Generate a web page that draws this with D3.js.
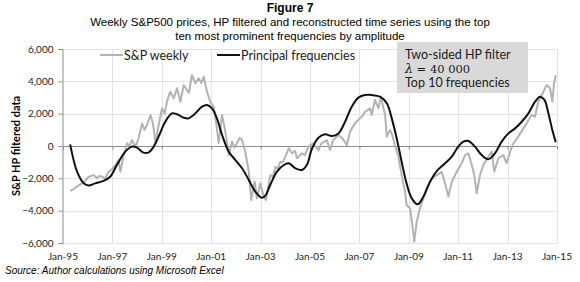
<!DOCTYPE html>
<html>
<head>
<meta charset="utf-8">
<script src="https://cdn.jsdelivr.net/npm/d3@7"></script>
<style>
  body { margin: 0; background: #fff; }
  svg { display: block; }
</style>
</head>
<body>
<div id="chart"></div>
<script>
// weekly S&P, HP filtered (decimal years)
const spYears = [
  1995.30, 1995.45, 1995.57, 1995.77, 1995.90, 1996.04, 1996.24, 1996.38, 1996.48, 1996.58,
  1996.71, 1996.85, 1996.98, 1997.12, 1997.25, 1997.32, 1997.46, 1997.59, 1997.70, 1997.79,
  1997.93, 1998.06, 1998.20, 1998.30, 1998.40, 1998.54, 1998.62, 1998.67, 1998.74, 1998.87,
  1999.01, 1999.11, 1999.21, 1999.34, 1999.48, 1999.62, 1999.75, 1999.89, 2000.02, 2000.10,
  2000.22, 2000.36, 2000.49, 2000.60, 2000.70, 2000.83, 2000.96, 2001.10, 2001.23, 2001.30,
  2001.44, 2001.57, 2001.71, 2001.84, 2001.95, 2002.04, 2002.15, 2002.25, 2002.38, 2002.52,
  2002.62, 2002.76, 2002.85, 2002.99, 2003.13, 2003.22, 2003.39, 2003.50, 2003.60, 2003.70,
  2003.80, 2003.90, 2004.00, 2004.14, 2004.27, 2004.40, 2004.47, 2004.58, 2004.68, 2004.80,
  2004.93, 2005.13, 2005.34, 2005.47, 2005.68, 2005.81, 2005.94, 2006.15, 2006.30, 2006.49,
  2006.62, 2006.82, 2007.02, 2007.15, 2007.23, 2007.43, 2007.50, 2007.63, 2007.77, 2007.87,
  2008.04, 2008.11, 2008.24, 2008.33, 2008.44, 2008.58, 2008.71, 2008.85, 2008.91, 2009.05,
  2009.14, 2009.22, 2009.32, 2009.45, 2009.59, 2009.72, 2009.93, 2010.13, 2010.33, 2010.47,
  2010.60, 2010.74, 2010.94, 2011.14, 2011.28, 2011.41, 2011.55, 2011.65, 2011.75, 2011.88,
  2012.02, 2012.22, 2012.36, 2012.46, 2012.63, 2012.83, 2012.96, 2013.10, 2013.23, 2013.43,
  2013.64, 2013.77, 2013.97, 2014.11, 2014.24, 2014.45, 2014.58, 2014.72, 2014.81, 2014.88,
  2014.95
]
const spValues = [
  -2780, -2650, -2500, -2310, -2150, -1900, -1800, -2000, -1850, -1900,
  -2000, -1590, -1450, -1175, -870, -1590, -560, 170, 0, 370,
  -40, 480, 1400, 1000, 1300, 1920, 1500, 1090, 170, 1300,
  2330, 2000, 2740, 3360, 2950, 3570, 2740, 3770, 3460, 3300,
  4390, 3880, 4190, 3900, 4290, 3360, 2740, 2430, 1090, 170,
  1920, 890, -560, 270, -100, 170, 500, 370, -350, -1590,
  -3340, -2210, -3240, -2310, -3130, -3340, -1800, -1900, -1280, -1400,
  -970, -1000, -660, -140, -450, -300, -760, -600, -450, -560,
  -40, 170, -250, 170, 370, -250, 370, 680, 500, 60,
  890, 1400, 1710, 1900, 2120, 2330, 1920, 2850, 2330, 3050,
  1920, 580, 990, 680, 60, -660, -1800, -2830, -3650, -3850,
  -4890, -5920, -4680, -3850, -3240, -2620, -2000, -1800, -1590, -2310,
  -3130, -2210, -1590, -1070, -560, -450, -1175, -1800, -2930, -1800,
  -1175, -660, -350, -1590, -760, -560, -1070, -350, 170, 580,
  1090, 1400, 1920, 1810, 2740, 3360, 3770, 3570, 2740, 3880,
  4390
]

// reconstruction from the top ten frequencies
const pfYears = [
  1995.29, 1995.57, 1995.84, 1996.04, 1996.30, 1996.64, 1996.91, 1997.18, 1997.52, 1997.79,
  1997.99, 1998.26, 1998.47, 1998.67, 1998.87, 1999.14, 1999.41, 1999.62, 1999.89, 2000.09,
  2000.29, 2000.63, 2000.83, 2001.03, 2001.23, 2001.44, 2001.71, 2001.98, 2002.25, 2002.52,
  2002.79, 2003.06, 2003.19, 2003.39, 2003.66, 2003.94, 2004.14, 2004.41, 2004.68, 2004.88,
  2005.07, 2005.34, 2005.61, 2005.88, 2006.15, 2006.42, 2006.69, 2006.96, 2007.23, 2007.50,
  2007.83, 2008.11, 2008.31, 2008.51, 2008.71, 2008.91, 2009.12, 2009.36, 2009.59, 2009.86,
  2010.13, 2010.47, 2010.74, 2011.00, 2011.21, 2011.41, 2011.68, 2011.95, 2012.22, 2012.49,
  2012.76, 2013.03, 2013.30, 2013.57, 2013.84, 2014.11, 2014.31, 2014.49, 2014.65, 2014.81,
  2014.95
]
const pfValues = [
  100, -1590, -2310, -2450, -2310, -2160, -1900, -1175, -350, -40,
  -100, -410, -390, -40, 580, 1500, 2020, 1960, 1750, 1710,
  1920, 2430, 2540, 2330, 1710, 680, -350, -870, -1380, -2100,
  -2830, -3200, -3070, -2410, -1590, -1175, -1070, -1380, -1480, -1150,
  -200, 510, 720, 620, 780, 1500, 2430, 2990, 3150, 3150,
  3050, 2640, 1710, 480, -970, -2310, -3240, -3610, -3130, -2210,
  -1550, -1070, -660, -40, 270, 310, -40, -560, -820, -450,
  270, 780, 1090, 1500, 2020, 2740, 3050, 2850, 2020, 990,
  230
]

const yTicks = [-6000, -4000, -2000, 0, 2000, 4000, 6000]
const xTickYears = [1995, 1997, 1999, 2001, 2003, 2005, 2007, 2009, 2011, 2013, 2015]
const titleLines = [
  'Weekly S&P500 prices, HP filtered and reconstructed time series using the top',
  'ten most prominent frequencies by amplitude'
]
const legendLabels = ['S&P weekly', 'Principal frequencies']

function draw(){
    const toDate = (y) => new Date(Date.UTC(Math.floor(y), 0, 1) + (y % 1) * 365.25 * 864e5)

    let dimensions = {
        width: 580,
        height: 282,
        left: 63,
        right: 557,
        top: 49,
        bottom: 243
    }

    const svg = d3.select('#chart')
        .append('svg')
        .attr('width', dimensions.width)
        .attr('height', dimensions.height)
        .style('font-family', 'Lato, "Open Sans", sans-serif')

    const xScale = d3.scaleUtc()
        .domain([toDate(1995), toDate(2015)])
        .range([dimensions.left, dimensions.right])

    const yScale = d3.scaleLinear()
        .domain([-6000, 6000])
        .range([dimensions.bottom, dimensions.top])

    // gridlines
    svg.append('g')
        .selectAll('line')
        .data(yTicks.filter(d => d !== 0))
        .join('line')
        .attr('x1', dimensions.left)
        .attr('x2', dimensions.right)
        .attr('y1', d => Math.round(yScale(d)) + 0.5)
        .attr('y2', d => Math.round(yScale(d)) + 0.5)
        .attr('stroke', '#e3e3e3')

    svg.append('g')
        .selectAll('line')
        .data(xTickYears.slice(1))
        .join('line')
        .attr('x1', d => Math.round(xScale(toDate(d))) + 0.5)
        .attr('x2', d => Math.round(xScale(toDate(d))) + 0.5)
        .attr('y1', dimensions.top)
        .attr('y2', dimensions.bottom)
        .attr('stroke', '#e3e3e3')

    // y axis
    const yAxis = d3.axisLeft(yScale)
        .tickValues(yTicks)
        .tickFormat(d3.format(','))
        .tickSize(4)
        .tickPadding(5)

    const yG = svg.append('g')
        .attr('transform', `translate(${dimensions.left - 0.5},0)`)
        .call(yAxis)
    yG.select('.domain').attr('stroke', '#8c8c8c')
    yG.selectAll('.tick line').attr('stroke', '#8c8c8c')
    yG.selectAll('.tick text')
        .attr('fill', '#222')
        .style('font-size', '10px')
        .style('font-family', 'Lato, sans-serif')

    // zero line with ticks
    const xAxis = d3.axisBottom(xScale)
        .tickValues(xTickYears.map(toDate))
        .tickSize(3)
        .tickFormat('')
    const xG = svg.append('g')
        .attr('transform', `translate(0,${Math.round(yScale(0)) + 0.5})`)
        .call(xAxis)
    xG.select('.domain').attr('stroke', '#8c8c8c').attr('d', `M${dimensions.left},0H${dimensions.right}`)
    xG.selectAll('.tick line').attr('stroke', '#8c8c8c')

    // x tick labels at the bottom
    svg.append('g')
        .selectAll('text')
        .data(xTickYears)
        .join('text')
        .attr('x', d => xScale(toDate(d)))
        .attr('y', 260)
        .attr('text-anchor', 'middle')
        .attr('fill', '#222')
        .style('font-size', '10px')
        .text(d => d3.utcFormat('%b-%y')(toDate(d)))

    // series
    const spData = spYears.map((y, i) => ({ date: toDate(y), value: spValues[i] }))
    const pfData = pfYears.map((y, i) => ({ date: toDate(y), value: pfValues[i] }))

    const lineGen = d3.line()
        .x(d => xScale(d.date))
        .y(d => yScale(d.value))

    svg.append('path')
        .datum(spData)
        .attr('d', lineGen)
        .attr('fill', 'none')
        .attr('stroke', '#b2b2b2')
        .attr('stroke-width', 2)
        .attr('stroke-linejoin', 'round')

    svg.append('path')
        .datum(pfData)
        .attr('d', lineGen.curve(d3.curveCatmullRom.alpha(0.5)))
        .attr('fill', 'none')
        .attr('stroke', '#111')
        .attr('stroke-width', 2)

    // legend
    const legendColors = ['#b2b2b2', '#111']
    const legendX = [100, 217]
    const legend = svg.append('g')
        .selectAll('g')
        .data(legendLabels)
        .join('g')
        .attr('transform', (d, i) => `translate(${legendX[i]},55)`)
    legend.append('line')
        .attr('x1', 0).attr('x2', 23)
        .attr('stroke', (d, i) => legendColors[i])
        .attr('stroke-width', 2)
    legend.append('text')
        .attr('x', 24).attr('y', 4.5)
        .attr('fill', '#1a1a1a')
        .style('font-size', '12.5px')
        .text(d => d)

    // annotation box
    const box = svg.append('g')
    box.append('rect')
        .attr('x', 397).attr('y', 42)
        .attr('width', 131).attr('height', 51)
        .attr('fill', '#d9d9d9')
    box.append('text')
        .attr('x', 405).attr('y', 59)
        .attr('fill', '#1a1a1a')
        .style('font-size', '12.5px')
        .text('Two-sided HP filter')
    const lam = box.append('text')
        .attr('x', 405).attr('y', 73)
        .attr('fill', '#1a1a1a')
        .style('font-size', '12.5px')
    lam.append('tspan')
        .style('font-family', '"DejaVu Serif", serif')
        .style('font-style', 'italic')
        .text('\u03BB')
    lam.append('tspan')
        .style('font-family', '"DejaVu Serif", serif')
        .style('font-size', '11.5px')
        .text(' = 40 000')
    box.append('text')
        .attr('x', 405).attr('y', 87)
        .attr('fill', '#1a1a1a')
        .style('font-size', '12.5px')
        .text('Top 10 frequencies')

    // titles
    svg.append('text')
        .attr('x', 290).attr('y', 12)
        .attr('text-anchor', 'middle')
        .style('font-family', '"Liberation Sans", Arial, sans-serif')
        .style('font-weight', 'bold')
        .style('font-size', '12px')
        .text('Figure 7')

    svg.append('g')
        .selectAll('text')
        .data(titleLines)
        .join('text')
        .attr('x', 290)
        .attr('y', (d, i) => 26 + i * 14)
        .attr('text-anchor', 'middle')
        .style('font-family', '"Liberation Sans", Arial, sans-serif')
        .style('font-size', '11.5px')
        .text(d => d)

    // y axis title
    svg.append('text')
        .attr('transform', `translate(20,${yScale(0)}) rotate(-90)`)
        .attr('text-anchor', 'middle')
        .style('font-weight', 'bold')
        .style('font-size', '11px')
        .text('S&P HP filtered data')

    // source
    svg.append('text')
        .attr('x', 5).attr('y', 274)
        .style('font-family', '"Liberation Sans", Arial, sans-serif')
        .style('font-style', 'italic')
        .style('font-size', '10px')
        .text('Source: Author calculations using Microsoft Excel')
}

draw()
</script>
</body>
</html>
